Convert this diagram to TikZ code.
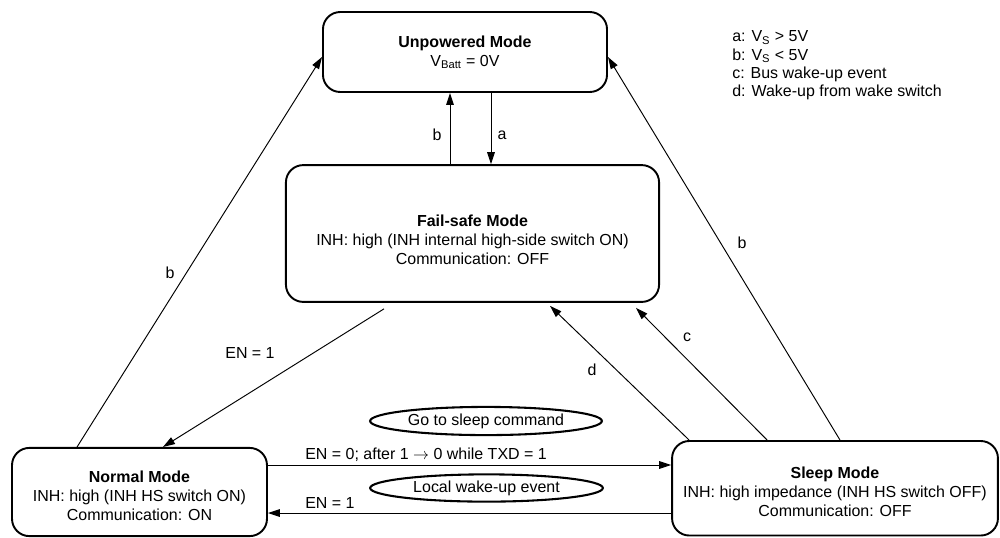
\documentclass[tikz,border=0pt]{standalone}
\usepackage{fontspec}
\setmainfont{Liberation Sans}
\usetikzlibrary{calc,arrows.meta,shapes.geometric}

\tikzset{
  mode/.style = {draw, line width=1.2pt, rounded corners=0.38cm, align=center,
                 font=\fontsize{10}{11.9}\selectfont},
  event/.style = {draw, ellipse, line width=1.3pt, inner sep=0pt,
                  font=\fontsize{10}{11.9}\selectfont},
  arr/.style = {-{Triangle[length=7.5pt, width=4.8pt]}, line width=0.6pt},
  lbl/.style = {inner sep=0pt, font=\fontsize{10}{11.9}\selectfont}
}

\begin{document}
\begin{tikzpicture}[x=0.022cm, y=-0.022cm]
        \useasboundingbox (0, 0) rectangle (1000, 537);

        % modes
        \node [mode, minimum width=6.25cm, minimum height=1.76cm] (up) at (465, 52)
              {\textbf{Unpowered Mode}\\V\textsubscript{Batt} = 0V};
        \node [mode, minimum width=8.21cm, minimum height=3.01cm] (fs) at (472.5, 233.5)
              {\\[3pt]\textbf{Fail-safe Mode}\\INH: high (INH internal high-side switch ON)\\Communication: OFF};
        \node [mode, minimum width=5.61cm, minimum height=1.94cm] (nm) at (139.5, 492)
              {\\[0pt]\textbf{Normal Mode}\\INH: high (INH HS switch ON)\\Communication: ON};
        \node [mode, minimum width=7.17cm, minimum height=2.08cm] (sl) at (835, 488.25)
              {\\[0pt]\textbf{Sleep Mode}\\INH: high impedance (INH HS switch OFF)\\Communication: OFF};

        % events
        \node [event, minimum width=5.1cm, minimum height=0.62cm] (gts) at (486, 421) {Go to sleep command};
        \node [event, minimum width=5.12cm, minimum height=0.6cm] (lwu) at (486.5, 488) {Local wake-up event};

        % key
        \node [lbl, anchor=west, align=left, font=\fontsize{10}{11.45}\selectfont] (key) at (732, 65.5)
              {a: V\textsubscript{S} > 5V\\b: V\textsubscript{S} < 5V\\c: Bus wake-up event\\d: Wake-up from wake switch};

        % transitions
        \draw [arr] ($(nm.north west)+(66, 0)$) -- ($(up.west)+(0, 5)$);
        \draw [arr] ($(fs.north)+(-22.5, 0)$) -- ($(up.south)+(-15, 0)$);
        \draw [arr] ($(up.south)+(26, 0)$) -- ($(fs.north)+(18.5, 0)$);
        \draw [arr] ($(fs.south)+(-88.5, 6)$) -- ($(nm.north)+(23.5, 0)$);
        \draw [arr] ($(sl.north west)+(18, 0)$) -- ($(fs.south)+(77.5, 3)$);
        \draw [arr] ($(sl.north west)+(96, 0)$) -- ($(fs.south east)+(-24, 5)$);
        \draw [arr] ($(sl.north)+(5, 0)$) -- ($(up.east)+(0, 5)$);
        \draw [arr] ($(nm.east)+(0, -27)$) -- ($(sl.west)+(0, -23.25)$);
        \draw [arr] ($(sl.west)+(0, 24.75)$) -- ($(nm.east)+(0, 21)$);

        % transition labels
        \node [lbl] (lb1) at (170, 273) {b};
        \node [lbl] (lb2) at (437, 135) {b};
        \node [lbl] (la) at (502, 135) {a};
        \node [lbl] (len1) at (250, 353) {EN = 1};
        \node [lbl] (ld) at (592, 370) {d};
        \node [lbl] (lc) at (687, 337) {c};
        \node [lbl] (lb3) at (742, 243) {b};
        \node [lbl, anchor=west] (len0) at (305, 455) {EN = 0; after 1 $\rightarrow$ 0 while TXD = 1};
        \node [lbl, anchor=west] (len2) at (305, 503) {EN = 1};
      \end{tikzpicture}
\end{document}
